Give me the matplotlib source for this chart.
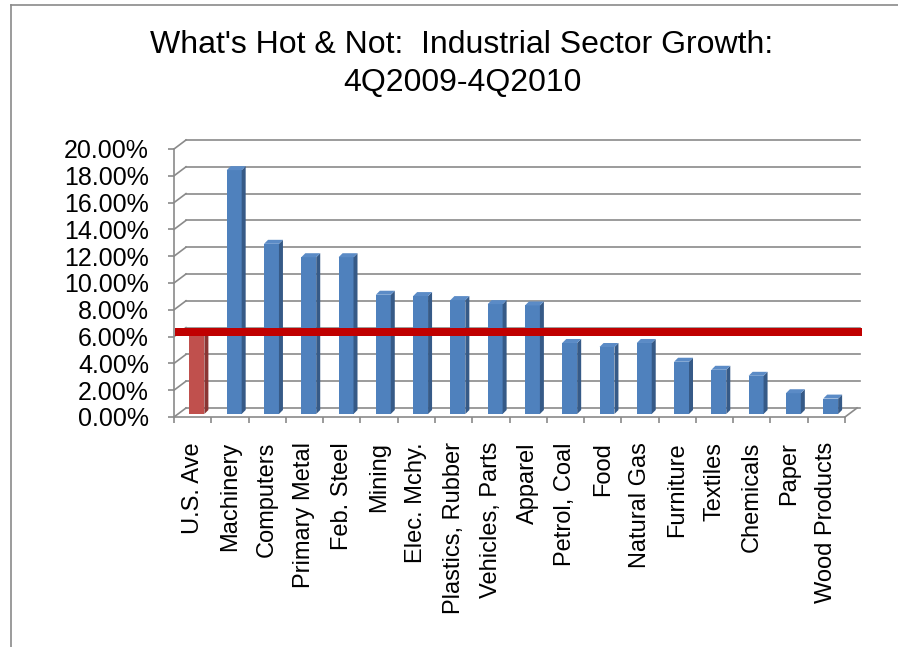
import matplotlib
matplotlib.use("Agg")
import matplotlib.pyplot as plt
from matplotlib.transforms import ScaledTranslation
from matplotlib.lines import Line2D

plt.rcParams['font.family'] = ['Liberation Sans', 'DejaVu Sans']

# ---- data ----
categories = ["U.S. Ave", "Machinery", "Computers", "Primary Metal", "Feb. Steel",
              "Mining", "Elec. Mchy.", "Plastics, Rubber", "Vehicles, Parts", "Apparel",
              "Petrol, Coal", "Food", "Natural Gas", "Furniture", "Textiles",
              "Chemicals", "Paper", "Wood Products"]
growth = [6.1, 18.2, 12.7, 11.7, 11.7, 8.9, 8.8, 8.5, 8.2, 8.1,
          5.3, 5.0, 5.3, 3.9, 3.3, 2.85, 1.55, 1.15]
us_average = 6.1
y_ticks = [0, 2, 4, 6, 8, 10, 12, 14, 16, 18, 20]
title = "What's Hot & Not:  Industrial Sector Growth:\n4Q2009-4Q2010"

# ---- styles ----
W, H, DPI = 898, 647, 100
grid_c = "#8a8a8a"
blue_front, blue_side, blue_top = "#4f81bd", "#365a87", "#5b8bc6"
red_front, red_side, red_top = "#c0504d", "#8a3533", "#cc6360"
avg_line_c = "#c00000"

fig = plt.figure(figsize=(W / DPI, H / DPI), dpi=DPI)
ax_left, ax_right, ax_top, ax_bot = 174, 845, 149, 417
ax = fig.add_axes([ax_left / W, (H - ax_bot) / H, (ax_right - ax_left) / W, (ax_bot - ax_top) / H])
n = len(categories)
ax.set_xlim(0, n)
ax.set_ylim(0, 20)

ux = (ax_right - ax_left) / n      # px per category unit
uy = (ax_bot - ax_top) / 20.0      # px per percent


def off(dx, dy):
    return ax.transData + ScaledTranslation(dx / DPI, dy / DPI, fig.dpi_scale_trans)


# back wall gridlines and side-wall diagonals
back_dx, back_dy = 12, 9
for v in y_ticks:
    ax.plot([0, n + 3 / ux], [v, v], color=grid_c, lw=1.2, transform=off(back_dx, back_dy),
            clip_on=False, zorder=1)
    ax.plot([0, back_dx / ux], [v, v + back_dy / uy], color=grid_c, lw=1.2, clip_on=False, zorder=1)
# floor right edge
ax.plot([n, n + back_dx / ux], [0, back_dy / uy], color=grid_c, lw=1.2, clip_on=False, zorder=1)

# bars with 3D faces
xc = [i + 0.5 for i in range(n)]
bw = 0.4
fdx, fdy = 4.3, 3.0      # front-face depth shift (px)
ddx, ddy = 4.0 / ux, 4.0 / uy  # bar depth (data units)
tr = off(fdx, fdy)
fronts = [red_front] + [blue_front] * (n - 1)
sides = [red_side] + [blue_side] * (n - 1)
tops = [red_top] + [blue_top] * (n - 1)
ax.bar(xc, growth, width=bw, color=fronts, transform=tr, zorder=3, clip_on=False)
for x, v, sc, tc in zip(xc, growth, sides, tops):
    r = x + bw / 2
    l = x - bw / 2
    ax.fill([r, r + ddx, r + ddx, r], [0, ddy, v + ddy, v], color=sc, transform=tr,
            zorder=3, clip_on=False, lw=0)
    ax.fill([l, r, r + ddx, l + ddx], [v, v, v + ddy, v + ddy], color=tc, transform=tr,
            zorder=3, clip_on=False, lw=0)

# average line
ax.plot([0.03, n + 17 / ux], [us_average, us_average], color=avg_line_c, lw=8 * 72 / DPI,
        solid_capstyle='butt', transform=off(0, fdy), clip_on=False, zorder=5)

# axes styling
for s in ["top", "right"]:
    ax.spines[s].set_visible(False)
for s in ["left", "bottom"]:
    ax.spines[s].set_color(grid_c)
    ax.spines[s].set_linewidth(1.2)
    ax.spines[s].set_zorder(2)
ax.set_yticks(y_ticks)
ax.set_yticklabels([f"{v:.2f}%" for v in y_ticks], fontsize=18)
ax.tick_params(axis='y', length=6 * 72 / DPI, width=1.2, color=grid_c, pad=19 * 72 / DPI)
ax.set_xticks(xc)
ax.set_xticklabels(categories, rotation=90, fontsize=17)
ax.set_xticks(range(n + 1), minor=True)
ax.tick_params(axis='x', which='major', length=0, pad=25 * 72 / DPI)
ax.tick_params(axis='x', which='minor', length=6 * 72 / DPI, width=1.2, color=grid_c)
ax.patch.set_alpha(0)

# title
fig.text(462 / W, 1 - 64 / H, title, ha='center', va='center', fontsize=23, linespacing=1.35)

# chart border (partially cropped)
fig.add_artist(Line2D([11 / W, 11 / W], [0, 1 - 5 / H], color=grid_c, lw=1.2, transform=fig.transFigure))
fig.add_artist(Line2D([11 / W, 1], [1 - 5 / H, 1 - 5 / H], color=grid_c, lw=1.2, transform=fig.transFigure))

fig.savefig("out.png", dpi=DPI)
